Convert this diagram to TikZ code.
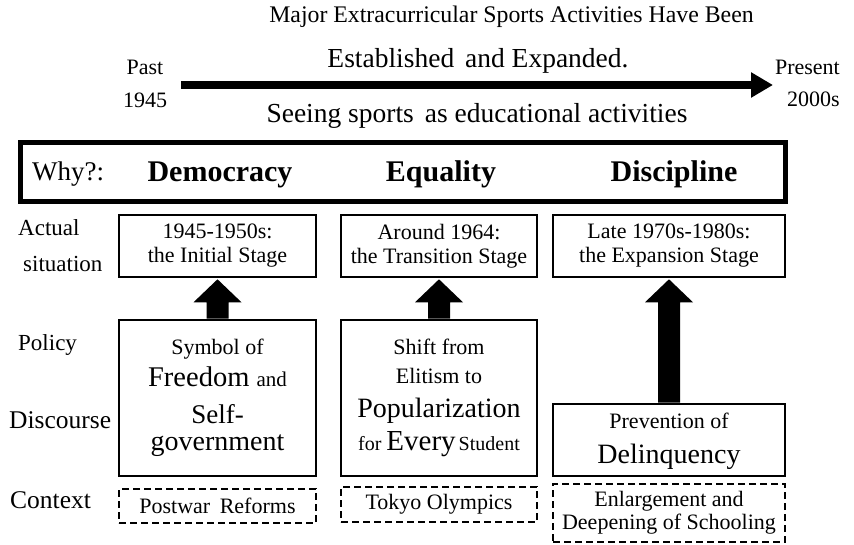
\documentclass[tikz,border=0pt]{standalone}
\usepackage{fontspec}
\setmainfont{Liberation Serif}
\usetikzlibrary{arrows.meta,calc}
\newcommand{\fsz}[1]{\fontsize{#1}{#1}\selectfont}
\newcommand{\blockarrow}[2]{%
  \fill ($(#1.north)+(-11,0)$) -- ($(#2.south)+(-11,24)$) -- ($(#2.south)+(-24,24)$)
    -- ($(#2.south)+(0,1)$) -- ($(#2.south)+(24,24)$) -- ($(#2.south)+(11,24)$)
    -- ($(#1.north)+(11,0)$) -- cycle;}
\begin{document}
\begin{tikzpicture}[x=1pt,y=-1pt,
  box/.style={draw, line width=2.6pt, inner sep=0pt, align=center},
  ctxbox/.style={draw, line width=2.4pt, dash pattern=on 7pt off 4pt, inner sep=0pt, align=center},
  lbl/.style={anchor=base west, inner sep=0pt, font=\fsz{23}},
  txt/.style={anchor=base, inner sep=0pt},
  ttl/.style={anchor=base, inner sep=0pt},
  head/.style={anchor=base, inner sep=0pt, font=\bfseries\fsz{30}}]
\useasboundingbox (0,0) rectangle (854,545);

% top texts
\node[ttl, font=\fsz{23.8}] (t1) at (511.5,23) {Major Extracurricular Sports Activities Have Been};
\node[ttl, font=\fsz{27.5}] (t2) at (478,68) {Established\hspace{4pt} and Expanded.};
\node[ttl, font=\fsz{27.5}] (t3) at (477,123) {Seeing sports\hspace{4pt} as educational activities};
\node[ttl, font=\fsz{22}] (past) at (145,75) {Past};
\node[ttl, font=\fsz{22}] (y45) at (145,108) {1945};
\node[ttl, font=\fsz{22}, anchor=base east] (pres) at (840,75) {Present};
\node[ttl, font=\fsz{22}, anchor=base east] (y00) at (840,107) {2000s};
\coordinate (ta) at (181,85);
\coordinate (tb) at (773,85);
\draw[line width=8pt, -{Triangle[length=22pt,width=24pt]}] (ta) -- (tb);

% why box
\node[draw, line width=5pt, minimum width=765pt, minimum height=59pt, inner sep=0pt] (why) at (402.5,172.5) {};
\node[anchor=base west, inner sep=0pt, font=\fsz{27}] (whyt) at (32,181) {Why?:};
\node[head] (dem) at (220,182) {Democracy};
\node[head] (equ) at (441,182) {Equality};
\node[head] (dis) at (674,182) {Discipline};

% left labels
\node[lbl] (l1) at (18,236) {Actual};
\node[lbl] (l2) at (23,272) {situation};
\node[lbl] (l3) at (18,350) {Policy};
\node[lbl, font=\fsz{25.5}] (l4) at (9,428) {Discourse};
\node[lbl, font=\fsz{25.5}] (l5) at (10,508) {Context};

% actual situation boxes
\node[box, minimum width=197pt, minimum height=62pt, font=\fsz{22}] (top1) at (217.5,246) {1945-1950s:\\[2pt]the Initial Stage};
\node[box, minimum width=196pt, minimum height=62pt, font=\fsz{22}] (top2) at (439,246) {Around 1964:\\[2pt]the Transition Stage};
\node[box, minimum width=232pt, minimum height=62pt, font=\fsz{22}] (top3) at (669,246) {Late 1970s-1980s:\\[2pt]the Expansion Stage};

% policy / discourse boxes
\node[box, minimum width=197pt, minimum height=156pt] (mid1) at (217.5,398) {};
\node[box, minimum width=196pt, minimum height=156pt] (mid2) at (439,398) {};
\node[box, minimum width=232pt, minimum height=72pt] (mid3) at (669,440) {};

\node[txt, font=\fsz{22}] (m1a) at (217.5,354) {Symbol of};
\node[txt] (m1b) at (217.5,386) {\fsz{28.5}Freedom \fsz{21}and};
\node[txt, font=\fsz{27}] (m1c) at (217.5,423) {Self-};
\node[txt, font=\fsz{28}] (m1d) at (217.5,450) {government};

\node[txt, font=\fsz{22}] (m2a) at (439,354) {Shift from};
\node[txt, font=\fsz{22}] (m2b) at (439,383) {Elitism to};
\node[txt, font=\fsz{28}] (m2c) at (439,417) {Popularization};
\node[txt] (m2d) at (439,450) {\fsz{20}for \fsz{29}Every\hspace{3pt}\fsz{20}Student};

\node[txt, font=\fsz{22}] (m3a) at (669,428) {Prevention of};
\node[txt, font=\fsz{28}] (m3b) at (669,463) {Delinquency};

% context boxes
\node[ctxbox, minimum width=197pt, minimum height=34pt, font=\fsz{22}] (c1) at (217.5,506) {Postwar\hspace{4pt} Reforms};
\node[ctxbox, minimum width=196pt, minimum height=35pt, font=\fsz{22}] (c2) at (439,504.5) {Tokyo Olympics};
\node[ctxbox, minimum width=232pt, minimum height=58pt, font=\fsz{22}] (c3) at (669,513) {Enlargement and\\[1pt]Deepening of Schooling};

% block arrows
\blockarrow{mid1}{top1}
\blockarrow{mid2}{top2}
\blockarrow{mid3}{top3}
\end{tikzpicture}
\end{document}
